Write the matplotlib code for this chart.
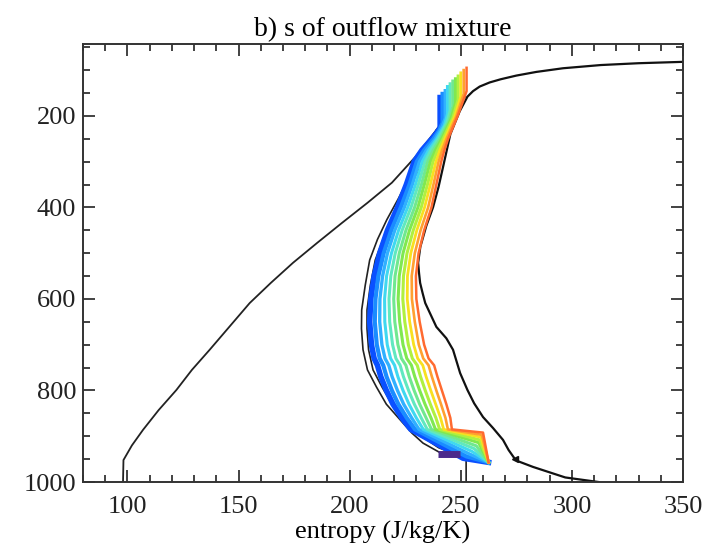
import matplotlib
matplotlib.use("Agg")
import matplotlib.pyplot as plt
from matplotlib.ticker import MultipleLocator

plt.rcParams['font.family'] = ['Liberation Serif', 'DejaVu Serif']

# environment entropy (left black curve), s vs pressure
env_s = [98.0, 98.2, 102.0, 107.0, 114.0, 122.0, 129.0, 137.0, 146.0, 155.0, 164.5,
         174.5, 185.5, 196.5, 208.0, 219.0, 229.5, 239.0, 245.0, 252.0]
env_p = [1000, 952, 920, 886, 843, 799, 755, 711, 660, 609, 565,
         521, 477, 434, 390, 346, 290, 231, 190, 158]

# saturation entropy (right black curve)
sat_s = [312.0, 297.0, 282.5, 276.0, 274.4, 271.5, 269.0, 264.5, 260.0, 256.0, 253.0,
         249.7, 246.5, 243.5, 239.0, 236.5, 234.0, 232.8, 231.7, 231.2, 230.8, 231.8,
         234.5, 237.5, 240.0, 242.0, 245.3, 249.5, 253.0, 255.5, 258.5, 263.0, 268.0,
         275.0, 284.0, 296.0, 313.0, 330.0, 350.0]
sat_p = [1000, 990, 967, 955, 950, 930, 908, 882, 858, 828, 799,
         762, 711, 686, 661, 635, 609, 587, 565, 543, 521, 486,
         440, 400, 355, 312, 240, 190, 158, 146, 136, 127, 120,
         112, 104, 96, 89, 85, 82]

# mixture reference curves (inner black curves)
mixa_s = [239.0, 236.0, 233.0, 230.0, 227.0, 222.0, 216.7, 212.5, 209.0, 207.0,
          205.4, 205.3, 206.0, 208.0, 212.0, 216.5, 222.7, 228.0, 233.0, 240.0]
mixa_p = [231, 255, 280, 305, 332, 380, 427, 470, 515, 570,
          624, 665, 711, 755, 792, 830, 864, 893, 915, 934]
mixb_s = [252.4, 252.4, 240.0, 228.0, 225.0, 219.0, 214.5, 210.5, 208.5, 207.8,
          207.8, 209.3, 211.5, 215.0, 219.0, 224.0, 229.5, 234.0, 237.0]
mixb_p = [1000, 948, 925, 886, 864, 830, 792, 755, 711, 665,
          624, 570, 515, 470, 427, 380, 332, 290, 250]

# outflow mixtures (coloured curves), leftmost (blue) to rightmost (orange)
body_p = [250, 275, 300, 350, 400, 450, 500, 550, 600, 650, 700, 730, 745, 770, 800, 830, 860, 885]
mix_s = [
    [237.0, 232.5, 229.0, 225.5, 221.5, 217.0, 213.5, 211.0, 209.5, 209.0, 209.8, 211.0, 212.5, 214.0, 216.5, 219.5, 223.5, 227.5],
    [237.7, 233.5, 230.2, 226.9, 223.0, 218.7, 215.3, 212.9, 211.6, 211.3, 212.2, 213.5, 215.1, 216.6, 219.0, 221.9, 225.7, 229.4],
    [238.5, 234.5, 231.4, 228.2, 224.6, 220.3, 217.0, 214.8, 213.6, 213.5, 214.5, 215.9, 217.6, 219.1, 221.5, 224.3, 227.9, 231.2],
    [239.2, 235.5, 232.7, 229.6, 226.1, 222.0, 218.8, 216.6, 215.7, 215.8, 216.9, 218.4, 220.2, 221.7, 224.0, 226.7, 230.0, 233.1],
    [239.9, 236.5, 233.9, 230.9, 227.6, 223.6, 220.5, 218.5, 217.7, 218.0, 219.3, 220.8, 222.7, 224.2, 226.5, 229.1, 232.2, 234.9],
    [240.7, 237.6, 235.1, 232.3, 229.2, 225.3, 222.3, 220.4, 219.8, 220.3, 221.7, 223.3, 225.3, 226.8, 229.0, 231.5, 234.4, 236.8],
    [241.4, 238.6, 236.3, 233.6, 230.7, 226.9, 224.0, 222.3, 221.8, 222.5, 224.0, 225.7, 227.8, 229.3, 231.5, 233.9, 236.6, 238.6],
    [242.1, 239.6, 237.5, 235.0, 232.2, 228.6, 225.8, 224.2, 223.9, 224.8, 226.4, 228.2, 230.4, 231.9, 234.0, 236.3, 238.8, 240.5],
    [242.8, 240.6, 238.8, 236.3, 233.7, 230.2, 227.5, 226.0, 225.9, 227.0, 228.8, 230.6, 232.9, 234.4, 236.5, 238.7, 240.9, 242.3],
    [243.6, 241.6, 240.0, 237.7, 235.3, 231.9, 229.3, 227.9, 228.0, 229.3, 231.1, 233.1, 235.5, 237.0, 239.0, 241.1, 243.1, 244.2],
    [244.3, 242.6, 241.2, 239.0, 236.8, 233.5, 231.0, 229.8, 230.0, 231.5, 233.5, 235.5, 238.0, 239.5, 241.5, 243.5, 245.3, 246.0],
]
top_p = [160, 152, 145, 136, 130, 124, 119, 113, 106, 100, 95]
bend_s = [240.7, 241.8, 243.0, 244.0, 245.2, 246.4, 247.6, 248.8, 250.0, 251.3, 252.6]
bend_p = [226, 215, 205, 196, 188, 180, 172, 165, 158, 152, 146]
upper_s = [239.0, 240.3, 241.4, 242.6, 243.6, 244.6, 245.5, 246.4, 247.2, 248.0, 248.6]
upper_p = [238, 232, 226, 221, 216, 212, 208, 205, 202, 201, 200]
fan_s = [251.0, 252.5, 254.0, 255.0, 256.0, 257.0, 258.0, 258.5, 259.0, 259.5, 260.0]
fan_p = [948, 944, 939, 933, 927, 921, 914, 908, 902, 897, 892]
base_s, base_p = 262.5, 957
purple_s = [239.8, 249.7]
purple_p = [938, 938]

colors = ['#0a50ff', '#1a8cff', '#30b0ff', '#40d8f0', '#60e8c0', '#70e890',
          '#80e850', '#b0f040', '#f8e020', '#ffa030', '#ff6a30']
widths = [4.0, 3.0, 2.4, 2.2, 2.2, 2.2, 2.2, 2.2, 2.0, 1.9, 1.8]

fig = plt.figure(figsize=(7.12, 5.59), dpi=100)
ax = fig.add_axes([0.1166, 0.1377, 0.8427, 0.7836])

ax.plot(env_s, env_p, color='#222222', lw=1.3, zorder=2)
ax.plot(sat_s, sat_p, color='#111111', lw=1.6, zorder=2)
ax.plot(mixa_s, mixa_p, color='#222222', lw=1.2, zorder=2)
ax.plot(mixb_s, mixb_p, color='#222222', lw=1.2, zorder=2)
ax.plot([sat_s[4]], [sat_p[4]], marker='<', color='#111111', ms=4, zorder=2)

for i in range(len(mix_s)):
    s = [bend_s[i], bend_s[i], upper_s[i]] + mix_s[i] + [fan_s[i], base_s]
    p = [top_p[i], bend_p[i], upper_p[i]] + body_p + [fan_p[i], base_p]
    ax.plot(s, p, color=colors[i], lw=widths[i], zorder=3)

ax.plot(purple_s, purple_p, color='#4b2a8c', lw=5, solid_capstyle='butt', zorder=3)

ax.set_xlim(80, 350)
ax.set_ylim(1000, 43)
ax.xaxis.set_minor_locator(MultipleLocator(10))
ax.yaxis.set_minor_locator(MultipleLocator(50))
ax.set_xticks([100, 150, 200, 250, 300, 350])
ax.set_yticks([200, 400, 600, 800, 1000])
ax.tick_params(which='both', direction='in', top=True, right=True, width=1.2,
               labelsize=19, colors='#222222')
ax.tick_params(which='major', length=8.5)
ax.tick_params(which='minor', length=5)
ax.tick_params(axis='x', pad=10)
ax.tick_params(axis='y', pad=5)
for sp in ax.spines.values():
    sp.set_linewidth(1.4)
    sp.set_color('#333333')

ax.set_xlabel('entropy (J/kg/K)', fontsize=19, labelpad=2)
ax.set_title('b) s of outflow mixture', fontsize=20, pad=6)

fig.savefig('out.png', dpi=100)
